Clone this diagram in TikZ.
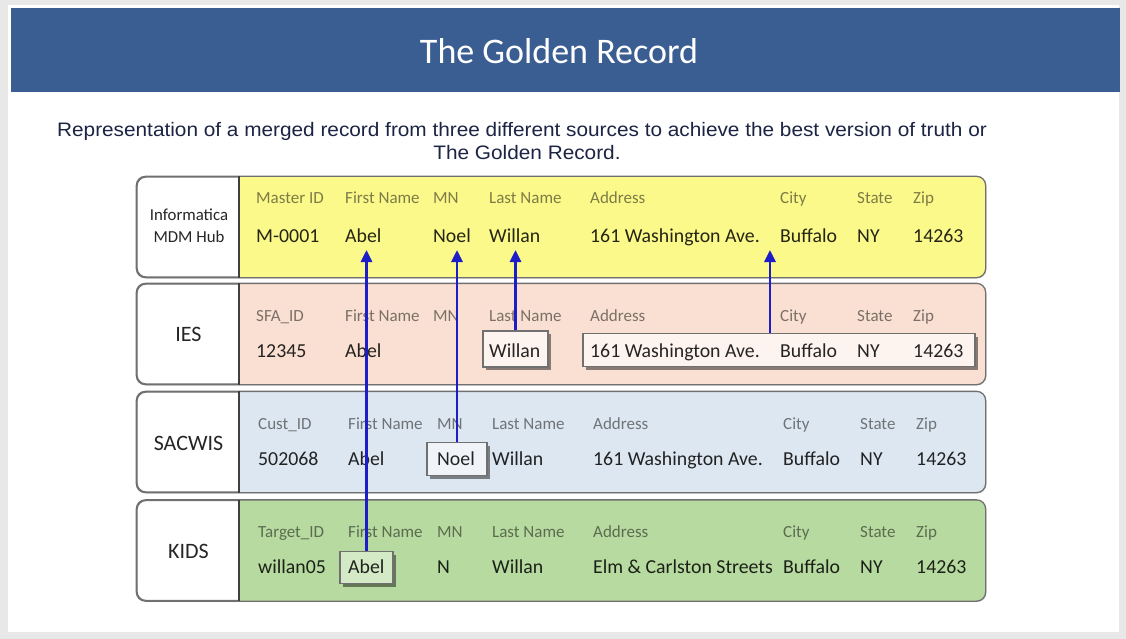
\documentclass[tikz,border=0pt]{standalone}
\usepackage{fontspec}
\setmainfont{Carlito}
\newfontfamily\arialf{Liberation Sans}
\usetikzlibrary{shadows,arrows.meta,calc}

\definecolor{framegray}{RGB}{232,232,232}
\definecolor{barblue}{RGB}{59,94,146}
\definecolor{subnavy}{RGB}{28,36,68}
\definecolor{hubyellow}{RGB}{251,249,138}
\definecolor{iespeach}{RGB}{249,224,210}
\definecolor{sacblue}{RGB}{221,231,241}
\definecolor{kidsgreen}{RGB}{183,218,160}
\definecolor{edgegray}{RGB}{112,112,112}
\definecolor{divgray}{RGB}{64,64,64}
\definecolor{linkblue}{RGB}{30,30,200}

\tikzset{
  rowbox/.style={draw=edgegray, line width=1.3pt, rounded corners=9pt, fill=white,
    minimum width=848pt, minimum height=100pt, inner sep=0pt,
    drop shadow={shadow xshift=1.5pt, shadow yshift=-1.5pt, opacity=0.25}},
  rowedge/.style={draw=edgegray, line width=1.3pt, rounded corners=9pt},
  divider/.style={draw=divgray, line width=2.2pt},
  hdr/.style={anchor=base west, inner sep=0pt, font=\fontsize{17}{20}\selectfont,
    text=black, text opacity=0.5},
  val/.style={anchor=base west, inner sep=0pt, font=\fontsize{19.8}{22}\selectfont,
    text=black, text opacity=0.85},
  srclabel/.style={font=\fontsize{22}{24}\selectfont, text=black!85, align=center, inner sep=0pt},
  pick/.style={draw=edgegray, line width=1.3pt, inner sep=0pt,
    drop shadow={shadow xshift=3pt, shadow yshift=-3pt, opacity=0.45, fill=black}},
  link/.style={draw=linkblue, line width=2.8pt, -{Triangle[length=12pt,width=11pt]},
    shorten >=8pt},
  caption/.style={anchor=base, inner sep=0pt, text=subnavy, font=\arialf\fontsize{19.5}{22}\selectfont},
}

\begin{document}
\begin{tikzpicture}[x=1pt, y=-1pt]
\useasboundingbox (0,0) rectangle (1126,639);
% slide frame and page
\fill[framegray] (0,0) rectangle (1126,639);
\fill[white] (8,5) rectangle (1119,632);

% title bar
\fill[barblue] (11,8) rectangle (1120,92);
\node[anchor=base, inner sep=0pt, text=white, font=\fontsize{36}{40}\selectfont] (title) at (559,64) {The Golden Record};

% caption
\node[caption] (sub1) at (522,137)
  {\scalebox{1.066}[1]{Representation of a merged record from three different sources to achieve the best version of truth or}};
\node[caption] (sub2) at (527,160)
  {\scalebox{1.066}[1]{The Golden Record.}};

% ---------- record rows ----------
\node[rowbox] (r1) at (561,227) {};
\node[rowbox] (r2) at (561,334) {};
\node[rowbox] (r3) at (561,442) {};
\node[rowbox] (r4) at (561,550.5) {};

\foreach \r/\c in {r1/hubyellow, r2/iespeach, r3/sacblue, r4/kidsgreen}{
  \begin{scope}
    \clip[rounded corners=9pt] (\r.south west) rectangle (\r.north east);
    \fill[\c] ([xshift=103pt]\r.north west) rectangle (\r.south east);
  \end{scope}
  \draw[rowedge] (\r.south west) rectangle (\r.north east);
  \draw[divider] ([xshift=103pt]\r.north west) -- ([xshift=103pt]\r.south west);
}

% source labels
\node[srclabel, font=\fontsize{16.8}{22}\selectfont] (l1) at (189,226) {Informatica\\MDM Hub};
\node[srclabel] (l2) at (188.5,334) {IES};
\node[srclabel] (l3) at (188.5,443) {SACWIS};
\node[srclabel] (l4) at (188.5,551) {KIDS};

% highlighted source values
\node[pick, fill=iespeach!35!white, minimum width=65pt, minimum height=36pt] (iesLast) at (515.5,349) {};
\node[pick, fill=iespeach!35!white, minimum width=392pt, minimum height=33pt] (iesAddr) at (779,350) {};
\node[pick, fill=sacblue!45!white, minimum width=60pt, minimum height=33pt] (sacMN) at (457,459) {};
\node[pick, fill=kidsgreen!60!white, minimum width=53pt, minimum height=32pt] (kidsFirst) at (366.5,567.5) {};

% Informatica MDM Hub (golden record)
\node[hdr] (h1a) at (256,204) {Master ID};
\node[hdr] (h1b) at (345,204) {First Name};
\node[hdr] (h1c) at (433,204) {MN};
\node[hdr] (h1d) at (489,204) {Last Name};
\node[hdr] (h1e) at (590,204) {Address};
\node[hdr] (h1f) at (780,204) {City};
\node[hdr] (h1g) at (857,204) {State};
\node[hdr] (h1h) at (913,204) {Zip};
\node[val] (hubID) at (256,242) {M-0001};
\node[val] (hubFirst) at (345,242) {Abel};
\node[val] (hubMN) at (433,242) {Noel};
\node[val] (hubLast) at (489,242) {Willan};
\node[val] (hubAddr) at (590,242) {161 Washington Ave.};
\node[val] (hubCity) at (780,242) {Buffalo};
\node[val] (hubState) at (857,242) {NY};
\node[val] (hubZip) at (913,242) {14263};

% IES
\node[hdr] (h2a) at (256,321) {SFA\_ID};
\node[hdr] (h2b) at (345,321) {First Name};
\node[hdr] (h2c) at (433,321) {MN};
\node[hdr] (h2d) at (489,321) {Last Name};
\node[hdr] (h2e) at (590,321) {Address};
\node[hdr] (h2f) at (780,321) {City};
\node[hdr] (h2g) at (857,321) {State};
\node[hdr] (h2h) at (913,321) {Zip};
\node[val] (v2a) at (256,357) {12345};
\node[val] (v2b) at (345,357) {Abel};
\node[val] (v2d) at (489,357) {Willan};
\node[val] (v2e) at (590,357) {161 Washington Ave.};
\node[val] (v2f) at (780,357) {Buffalo};
\node[val] (v2g) at (857,357) {NY};
\node[val] (v2h) at (913,357) {14263};

% SACWIS
\node[hdr] (h3a) at (258,429) {Cust\_ID};
\node[hdr] (h3b) at (348,429) {First Name};
\node[hdr] (h3c) at (437,429) {MN};
\node[hdr] (h3d) at (492,429) {Last Name};
\node[hdr] (h3e) at (593,429) {Address};
\node[hdr] (h3f) at (783,429) {City};
\node[hdr] (h3g) at (860,429) {State};
\node[hdr] (h3h) at (916,429) {Zip};
\node[val] (v3a) at (258,465) {502068};
\node[val] (v3b) at (348,465) {Abel};
\node[val] (v3c) at (437,465) {Noel};
\node[val] (v3d) at (492,465) {Willan};
\node[val] (v3e) at (593,465) {161 Washington Ave.};
\node[val] (v3f) at (783,465) {Buffalo};
\node[val] (v3g) at (860,465) {NY};
\node[val] (v3h) at (916,465) {14263};

% KIDS
\node[hdr] (h4a) at (258,537) {Target\_ID};
\node[hdr] (h4b) at (348,537) {First Name};
\node[hdr] (h4c) at (437,537) {MN};
\node[hdr] (h4d) at (492,537) {Last Name};
\node[hdr] (h4e) at (593,537) {Address};
\node[hdr] (h4f) at (783,537) {City};
\node[hdr] (h4g) at (860,537) {State};
\node[hdr] (h4h) at (916,537) {Zip};
\node[val] (v4a) at (258,573) {willan05};
\node[val] (v4b) at (348,573) {Abel};
\node[val] (v4c) at (437,573) {N};
\node[val] (v4d) at (492,573) {Willan};
\node[val] (v4e) at (593,573) {Elm \& Carlston Streets};
\node[val] (v4f) at (783,573) {Buffalo};
\node[val] (v4g) at (860,573) {NY};
\node[val] (v4h) at (916,573) {14263};

% links from each chosen source value up to the golden record
\coordinate (hubGap) at ($(hubAddr.east)!0.5!(hubCity.west)$);
\draw[link] (kidsFirst.north) -- (kidsFirst.north |- hubFirst.base);
\draw[link] (sacMN.north) -- (sacMN.north |- hubMN.base);
\draw[link] (iesLast.north) -- (iesLast.north |- hubLast.base);
\draw[link] (iesAddr.north -| hubGap) -- (hubGap |- hubAddr.base);
\end{tikzpicture}
\end{document}
